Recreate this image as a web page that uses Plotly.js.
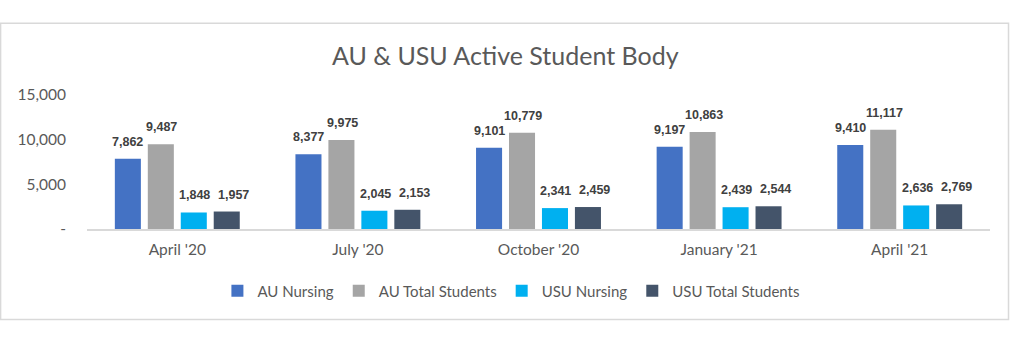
<!DOCTYPE html>
<html><head><meta charset="utf-8">
<script src="https://cdn.plot.ly/plotly-3.0.1.min.js"></script>
<style>html,body{margin:0;padding:0;background:#fff}#chart{width:1027px;height:361px}</style>
</head><body><div id="chart"></div>
<script>
const categories = ["April '20", "July '20", "October '20", "January '21", "April '21"];
const auNursing = [7862, 8377, 9101, 9197, 9410];
const auTotal = [9487, 9975, 10779, 10863, 11117];
const usuNursing = [1848, 2045, 2341, 2439, 2636];
const usuTotal = [1957, 2153, 2459, 2544, 2769];
const yTickVals = [0, 5000, 10000, 15000];
const yTickText = ['-', '5,000', '10,000', '15,000'];

const series = [
  {name: 'AU Nursing', y: auNursing, color: '#4472C4'},
  {name: 'AU Total Students', y: auTotal, color: '#A5A5A5'},
  {name: 'USU Nursing', y: usuNursing, color: '#00B0F0'},
  {name: 'USU Total Students', y: usuTotal, color: '#44546A'}
];
const margin = {l: 87, r: 37, t: 95, b: 132};
const W = 1027, H = 361;
const bargap = 0.27, bargroupgap = 0.21;
const labelFont = {family: '"Liberation Sans Narrow", "Arial Narrow", "Liberation Sans", Arial, sans-serif', size: 12.5, color: '#404040', weight: 'bold'};

const traces = series.map(s => ({
  type: 'bar', name: s.name, x: categories, y: s.y,
  marker: {color: s.color}, hoverinfo: 'skip'
}));

// data labels: anchored at each bar's value via the axes, shifted to its group slot
const catWidthPx = (W - margin.l - margin.r) / categories.length;
const slotPx = catWidthPx * (1 - bargap) / series.length;
const labelNudge = [0, 1, 1, 7];
const annotations = [];
series.forEach((s, i) => {
  s.y.forEach((v, j) => {
    annotations.push({
      x: categories[j], y: v, xref: 'x', yref: 'y',
      text: '<b>' + v.toLocaleString('en-US') + '</b>', showarrow: false,
      xshift: (i - (series.length - 1) / 2) * slotPx + labelNudge[i], yshift: 17,
      xanchor: 'center', yanchor: 'middle', font: labelFont
    });
  });
});

const fam = 'Lato, Carlito, Calibri, "Open Sans", sans-serif';
const tickFont = {family: fam, size: 15.5, color: '#595959'};
const legendFont = {family: fam, size: 15, color: '#595959'};
const layout = {
  width: W, height: H, margin: margin,
  paper_bgcolor: '#fff', plot_bgcolor: '#fff',
  barmode: 'group', bargap: bargap, bargroupgap: bargroupgap,
  title: {text: 'AU &amp; USU Active Student Body', x: 0.492, xanchor: 'center', y: 0.845, yanchor: 'middle', xref: 'container', yref: 'container',
    font: {family: fam, size: 25, color: '#595959'}},
  xaxis: {showline: true, linecolor: '#D9D9D9', linewidth: 2, ticks: '', showgrid: false, zeroline: false,
    tickfont: tickFont, ticklabelstandoff: 5, fixedrange: true},
  yaxis: {range: [0, 15000], tickvals: yTickVals, ticktext: yTickText, showgrid: false, zeroline: false, showline: false,
    ticks: '', tickfont: tickFont, ticklabelstandoff: 20, fixedrange: true},
  showlegend: true,
  legend: {orientation: 'h', x: 0.47, xanchor: 'center', y: -0.463, yanchor: 'middle', font: legendFont, itemwidth: 30, traceorder: 'normal'},
  annotations: annotations,
  shapes: [{type: 'rect', xref: 'paper', yref: 'paper', x0: -0.0957, x1: 1.0205, y0: -0.675, y1: 1.535,
    line: {color: '#D9D9D9', width: 1.5}, fillcolor: 'rgba(0,0,0,0)', layer: 'below'}]
};
Plotly.newPlot('chart', traces, layout, {displayModeBar: false, staticPlot: true});
</script></body></html>
